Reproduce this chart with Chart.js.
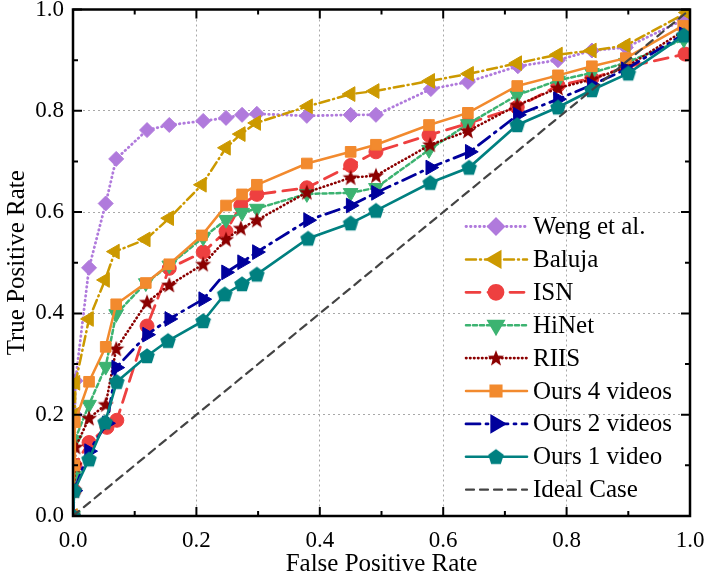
<!DOCTYPE html>
<html>
<head>
<meta charset="utf-8">
<script src="https://cdn.jsdelivr.net/npm/chart.js@4.4.1/dist/chart.umd.min.js"></script>
<style>
  html, body { margin: 0; padding: 0; background: #fff; }
</style>
</head>
<body>
<canvas id="roc" width="706" height="579"></canvas>
<script>
// ROC curves, values
const seriesNames = ['Weng et al.', 'Baluja', 'ISN', 'HiNet', 'RIIS', 'Ours 4 videos', 'Ours 2 videos', 'Ours 1 video', 'Ideal Case'];
const tickValues = [0, 0.2, 0.4, 0.6, 0.8, 1.0];

const wengX = [0, 0.002, 0.003, 0.004, 0.026, 0.053, 0.07, 0.12, 0.156, 0.211, 0.248, 0.274, 0.298, 0.379, 0.45, 0.491, 0.58, 0.64, 0.721, 0.786, 0.841, 0.896, 0.99];
const wengY = [0, 0.1, 0.2, 0.267, 0.49, 0.617, 0.705, 0.762, 0.772, 0.78, 0.786, 0.792, 0.794, 0.79, 0.792, 0.792, 0.843, 0.857, 0.888, 0.9, 0.919, 0.925, 0.98];

const balujaX = [0, 0.002, 0.003, 0.004, 0.026, 0.052, 0.068, 0.118, 0.156, 0.209, 0.248, 0.272, 0.297, 0.381, 0.45, 0.489, 0.579, 0.642, 0.72, 0.786, 0.841, 0.896, 0.995];
const balujaY = [0, 0.1, 0.2, 0.263, 0.389, 0.466, 0.522, 0.546, 0.588, 0.654, 0.727, 0.754, 0.776, 0.809, 0.833, 0.839, 0.859, 0.873, 0.894, 0.911, 0.919, 0.929, 0.994];

const isnX = [0, 0.002, 0.003, 0.026, 0.055, 0.071, 0.12, 0.156, 0.211, 0.248, 0.272, 0.298, 0.379, 0.45, 0.491, 0.577, 0.64, 0.72, 0.786, 0.841, 0.896, 0.992];
const isnY = [0, 0.05, 0.1, 0.145, 0.175, 0.189, 0.375, 0.489, 0.521, 0.562, 0.613, 0.635, 0.648, 0.692, 0.719, 0.752, 0.775, 0.807, 0.85, 0.864, 0.886, 0.912];

const hinetX = [0, 0.002, 0.003, 0.026, 0.053, 0.07, 0.118, 0.156, 0.211, 0.248, 0.274, 0.298, 0.379, 0.45, 0.491, 0.577, 0.64, 0.72, 0.786, 0.841, 0.896, 0.99];
const hinetY = [0, 0.08, 0.15, 0.22, 0.295, 0.399, 0.46, 0.495, 0.55, 0.585, 0.599, 0.607, 0.636, 0.638, 0.648, 0.723, 0.774, 0.831, 0.86, 0.875, 0.895, 0.941];

const riisX = [0, 0.002, 0.003, 0.004, 0.026, 0.053, 0.07, 0.12, 0.156, 0.211, 0.248, 0.272, 0.298, 0.379, 0.45, 0.491, 0.579, 0.64, 0.72, 0.786, 0.841, 0.896, 0.99];
const riisY = [0, 0.05, 0.1, 0.136, 0.193, 0.22, 0.33, 0.422, 0.456, 0.497, 0.546, 0.568, 0.584, 0.639, 0.668, 0.672, 0.733, 0.76, 0.811, 0.845, 0.862, 0.886, 0.958];

const ours4X = [0, 0.002, 0.003, 0.026, 0.053, 0.07, 0.118, 0.156, 0.209, 0.248, 0.274, 0.298, 0.379, 0.45, 0.491, 0.577, 0.64, 0.72, 0.786, 0.841, 0.896, 0.989];
const ours4Y = [0, 0.1, 0.185, 0.265, 0.334, 0.418, 0.46, 0.497, 0.554, 0.613, 0.635, 0.654, 0.696, 0.719, 0.733, 0.772, 0.796, 0.849, 0.87, 0.888, 0.904, 0.968];

const ours2X = [0, 0.002, 0.026, 0.055, 0.07, 0.12, 0.156, 0.211, 0.248, 0.274, 0.298, 0.381, 0.45, 0.491, 0.579, 0.643, 0.721, 0.786, 0.841, 0.896, 0.99];
const ours2Y = [0, 0.05, 0.128, 0.183, 0.293, 0.358, 0.389, 0.428, 0.481, 0.501, 0.521, 0.584, 0.613, 0.638, 0.688, 0.719, 0.792, 0.823, 0.851, 0.882, 0.951];

const ours1X = [0, 0.002, 0.026, 0.052, 0.071, 0.12, 0.154, 0.211, 0.246, 0.274, 0.298, 0.381, 0.45, 0.491, 0.579, 0.642, 0.72, 0.786, 0.841, 0.9, 0.99];
const ours1Y = [0, 0.05, 0.112, 0.185, 0.265, 0.316, 0.346, 0.385, 0.438, 0.458, 0.477, 0.548, 0.578, 0.603, 0.658, 0.688, 0.772, 0.807, 0.841, 0.874, 0.949];

const idealX = [0, 1];
const idealY = [0, 1];

const serif = 'Liberation Serif';

// filled marker shapes chart.js doesn't have
function polygonImage(color, points, outer, inner) {
  const c = document.createElement('canvas');
  c.width = 18; c.height = 18;
  const g = c.getContext('2d');
  g.fillStyle = color;
  g.beginPath();
  const n = inner ? points * 2 : points;
  for (let i = 0; i < n; i++) {
    const r = inner && i % 2 == 1 ? inner : outer;
    const a = -Math.PI / 2 + i * 2 * Math.PI / n;
    const px = 9 + r * Math.cos(a), py = 9.5 + r * Math.sin(a);
    if (i == 0) g.moveTo(px, py); else g.lineTo(px, py);
  }
  g.closePath();
  g.fill();
  return c;
}
const starImg = polygonImage('#8b0000', 5, 8.5, 3.6);
const pentaImg = polygonImage('#008080', 5, 8.2);

function pts(xs, ys) {
  return xs.map((x, i) => ({ x: x, y: ys[i] }));
}

function series(i, xs, ys, color, dash, style, radius, rotation, width) {
  return {
    label: seriesNames[i],
    data: pts(xs, ys),
    borderColor: color,
    backgroundColor: color,
    borderWidth: width || 2.5,
    borderDash: dash,
    borderCapStyle: 'round',
    pointStyle: style,
    pointRadius: radius,
    pointRotation: rotation || 0,
    pointBackgroundColor: color,
    pointBorderColor: color,
    pointBorderWidth: 1,
    tension: 0,
    order: 20 - i
  };
}

const datasets = [
  series(0, wengX, wengY, '#b07adc', [0.5, 4], 'rectRot', 7.5, 0, 2.8),
  series(1, balujaX, balujaY, '#cc9900', [10, 4, 1, 4], 'triangle', 8.5, -90),
  series(2, isnX, isnY, '#ee4040', [14, 8], 'circle', 7, 0, 2.8),
  series(3, hinetX, hinetY, '#3cb371', [4, 3], 'triangle', 8.5, 180),
  series(4, riisX, riisY, '#8b0000', [0.5, 3.5], starImg, 8, 0, 2.6),
  series(5, ours4X, ours4Y, '#f28a2e', [], 'rect', 7.5),
  series(6, ours2X, ours2Y, '#00009c', [14, 6, 2, 6], 'triangle', 8.5, 90, 2.8),
  series(7, ours1X, ours1Y, '#008080', [], pentaImg, 8, 0, 2.6),
  series(8, idealX, idealY, '#444444', [8, 6], false, 0, 0, 2.2)
];
datasets[8].pointRadius = 0;

// legend drawn inside the plot, lower right
const insideLegend = {
  id: 'insideLegend',
  afterDraw(chart) {
    const ctx = chart.ctx;
    const area = chart.chartArea;
    const x0 = area.right - 224, x1 = area.right - 163, mx = area.right - 194, tx = area.right - 157;
    chart.data.datasets.forEach((ds, i) => {
      const y = area.top + 217 + i * 32.9;
      ctx.save();
      ctx.strokeStyle = ds.borderColor;
      ctx.lineWidth = ds.borderWidth;
      ctx.lineCap = 'round';
      ctx.setLineDash(ds.borderDash);
      ctx.beginPath();
      ctx.moveTo(x0, y);
      ctx.lineTo(x1, y);
      ctx.stroke();
      ctx.setLineDash([]);
      if (ds.pointStyle) {
        ctx.fillStyle = ds.pointBackgroundColor;
        ctx.strokeStyle = ds.pointBorderColor;
        Chart.helpers.drawPoint(ctx, {
          pointStyle: ds.pointStyle, rotation: ds.pointRotation,
          radius: ds.pointRadius, borderWidth: 1
        }, mx, y);
      }
      ctx.fillStyle = '#000';
      ctx.font = '25px "' + serif + '"';
      ctx.textBaseline = 'middle';
      ctx.fillText(ds.label, tx, y + 1);
      ctx.restore();
    });
  }
};

// inward ticks on all four sides plus the frame
const frameTicks = {
  id: 'frameTicks',
  afterDraw(chart) {
    const ctx = chart.ctx;
    const a = chart.chartArea;
    const xs = chart.scales.x, ys = chart.scales.y;
    ctx.save();
    ctx.strokeStyle = '#000';
    ctx.lineWidth = 2;
    ctx.beginPath();
    for (let k = 0; k <= 10; k++) {
      const len = k % 2 == 0 ? 9 : 5;
      const px = xs.getPixelForValue(k / 10);
      ctx.moveTo(px, a.bottom); ctx.lineTo(px, a.bottom - len);
      ctx.moveTo(px, a.top); ctx.lineTo(px, a.top + len);
      const py = ys.getPixelForValue(k / 10);
      ctx.moveTo(a.left, py); ctx.lineTo(a.left + len, py);
      ctx.moveTo(a.right, py); ctx.lineTo(a.right - len, py);
    }
    ctx.stroke();
    ctx.lineWidth = 2.5;
    ctx.strokeRect(a.left, a.top, a.right - a.left, a.bottom - a.top);
    ctx.restore();
  }
};

function gridColor(c) {
  const v = c.tick ? c.tick.value : 0;
  return (v > 0.01 && v < 0.99) ? '#a8a8a8' : 'rgba(0,0,0,0)';
}

// keep the plot box where the figure has it, labels may overhang
function fitX(s) {
  s.height = 63;
  s.paddingLeft = 0;
  s.paddingRight = 0;
}
function fitY(s) {
  s.width = 73;
  s.paddingTop = 0;
  s.paddingBottom = 0;
}

new Chart(document.getElementById('roc'), {
  type: 'line',
  data: { datasets: datasets },
  options: {
    responsive: false,
    animation: false,
    layout: { padding: { top: 7, right: 16, left: 0, bottom: 0 } },
    plugins: {
      legend: { display: false },
      tooltip: { enabled: false }
    },
    scales: {
      x: {
        type: 'linear',
        min: 0,
        max: 1,
        afterBuildTicks: s => { s.ticks = tickValues.map(v => ({ value: v })); },
        afterFit: fitX,
        ticks: {
          callback: v => v.toFixed(1),
          color: '#000',
          font: { family: serif, size: 23 },
          padding: 11,
          maxRotation: 0
        },
        grid: { color: gridColor, lineWidth: 1, drawTicks: false },
        border: { display: false, dash: [2, 3] },
        title: {
          display: true,
          text: 'False Positive Rate',
          color: '#000',
          font: { family: serif, size: 25 },
          padding: { top: 2, bottom: 0 }
        }
      },
      y: {
        type: 'linear',
        min: 0,
        max: 1,
        afterBuildTicks: s => { s.ticks = tickValues.map(v => ({ value: v })); },
        afterFit: fitY,
        ticks: {
          callback: v => v.toFixed(1),
          color: '#000',
          font: { family: serif, size: 23 },
          padding: 9
        },
        grid: { color: gridColor, lineWidth: 1, drawTicks: false },
        border: { display: false, dash: [2, 3] },
        title: {
          display: true,
          text: 'True Positive Rate',
          color: '#000',
          font: { family: serif, size: 25 },
          padding: { top: 2, bottom: 2 }
        }
      }
    }
  },
  plugins: [insideLegend, frameTicks]
});
</script>
</body>
</html>
